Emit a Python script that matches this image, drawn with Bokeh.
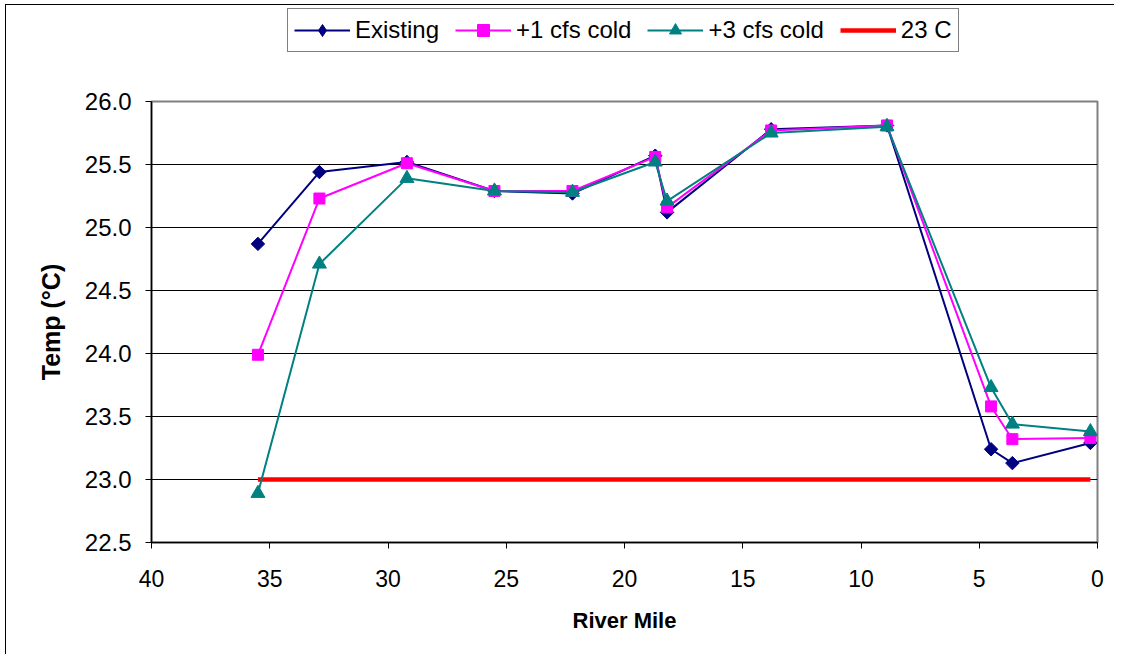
import math
from bokeh.plotting import figure
from bokeh.layouts import column
from bokeh.models import Range1d, FixedTicker, Legend, LegendItem, CustomJSTickFormatter
from bokeh.embed import file_html
from bokeh.resources import INLINE

# ---- data ----
river_mile = [35.5, 32.9, 29.2, 25.5, 22.2, 18.7, 18.2, 13.8, 8.9, 4.5, 3.6, 0.3]
existing = [24.87, 25.44, 25.52, 25.29, 25.27, 25.57, 25.12, 25.78, 25.81, 23.24, 23.13, 23.29]
plus1_cold = [23.99, 25.23, 25.51, 25.29, 25.29, 25.56, 25.16, 25.77, 25.81, 23.58, 23.32, 23.33]
plus3_cold = [22.89, 24.71, 25.39, 25.29, 25.28, 25.52, 25.21, 25.75, 25.80, 23.73, 23.44, 23.38]
threshold_x = [35.5, 0.3]
threshold_y = [23.0, 23.0]

series_labels = ["Existing", "+1 cfs cold", "+3 cfs cold", "23 C"]
x_ticks = [0, 5, 10, 15, 20, 25, 30, 35, 40]
y_ticks = [22.5, 23.0, 23.5, 24.0, 24.5, 25.0, 25.5, 26.0]
grid_ticks = [23.0, 23.5, 24.0, 24.5, 25.0, 25.5]

FONT = "Liberation Sans"
NAVY, MAGENTA, TEAL, RED = "#000080", "#FF00FF", "#008080", "#FF0000"
DIAMOND_ANGLE = math.pi / 4

OFF_X, OFF_Y = 6, 5          # outer chart border (5px/4px margin + 1px line)
W = 1114 - OFF_X
TOP_H = 60


def draw_series(fig, existing_marker, existing_angle, existing_size):
    red = fig.line(threshold_x, threshold_y, line_color=RED, line_width=4.5)
    l1 = fig.line(river_mile, existing, line_color=NAVY, line_width=2)
    m1 = fig.scatter(river_mile, existing, marker=existing_marker, angle=existing_angle,
                     size=existing_size, fill_color=NAVY, line_color=NAVY)
    l2 = fig.line(river_mile, plus1_cold, line_color=MAGENTA, line_width=2)
    m2 = fig.scatter(river_mile, plus1_cold, marker="square", size=11,
                     fill_color=MAGENTA, line_color=MAGENTA)
    l3 = fig.line(river_mile, plus3_cold, line_color=TEAL, line_width=2)
    m3 = fig.scatter(river_mile, plus3_cold, marker="triangle", size=14,
                     fill_color=TEAL, line_color=TEAL)
    return [[l1, m1], [l2, m2], [l3, m3], [red]]


# ---------------- main chart ----------------
p = figure(width=W, height=589, output_backend="svg", toolbar_location=None,
           x_range=Range1d(40, 0), y_range=Range1d(22.5, 26.0),
           min_border_left=151 - OFF_X, min_border_right=17,
           min_border_top=101 - OFF_Y - TOP_H, min_border_bottom=112)

p.background_fill_color = "white"
p.border_fill_color = "white"
p.outline_line_color = "#808080"
p.outline_line_width = 2

p.xaxis.ticker = FixedTicker(ticks=x_ticks)
p.yaxis.ticker = FixedTicker(ticks=y_ticks)
p.yaxis.formatter = CustomJSTickFormatter(code="return tick.toFixed(1);")
for ax in (p.xaxis[0], p.yaxis[0]):
    ax.axis_line_color = "black"
    ax.axis_line_width = 1.5
    ax.major_tick_line_color = "black"
    ax.major_tick_out = 6
    ax.major_tick_in = 0
    ax.minor_tick_line_color = None
    ax.major_label_text_font = FONT
    ax.major_label_text_color = "black"
    ax.axis_label_text_font = FONT
    ax.axis_label_text_font_style = "bold"
    ax.axis_label_text_color = "black"

p.xaxis.major_label_text_font_size = "23px"
p.yaxis.major_label_text_font_size = "24px"
p.xaxis.axis_label_text_font_size = "22px"
p.yaxis.axis_label_text_font_size = "25px"
p.xaxis.axis_label = "River Mile"
p.yaxis.axis_label = "Temp (°C)"
p.xaxis.major_label_standoff = 21
p.xaxis.axis_label_standoff = 18
p.yaxis.major_label_standoff = 14
p.yaxis.axis_label_standoff = 17

p.xgrid.grid_line_color = None
p.ygrid.ticker = FixedTicker(ticks=grid_ticks)
p.ygrid.grid_line_color = "black"
p.ygrid.grid_line_width = 1

draw_series(p, "square", DIAMOND_ANGLE, 9.5)

# ---------------- legend strip (above the chart) ----------------
# The same series are drawn here outside this strip's ranges, so only the legend shows.
lg = figure(width=W, height=TOP_H, output_backend="svg", toolbar_location=None,
            x_range=Range1d(100, 101), y_range=Range1d(100, 101),
            x_axis_type=None, y_axis_type=None,
            min_border_left=0, min_border_right=0, min_border_top=0, min_border_bottom=0)
lg.outline_line_color = None
lg.grid.visible = False
lg.background_fill_color = "white"
lg.border_fill_color = "white"

key_renderers = draw_series(lg, "diamond", 0, 14)

legend = Legend(items=[LegendItem(label=lab, renderers=rs)
                       for lab, rs in zip(series_labels, key_renderers)],
                orientation="horizontal", location=(136, TOP_H - (52 - OFF_Y)))
legend.label_text_font = FONT
legend.label_text_font_size = "24px"
legend.label_text_color = "black"
legend.glyph_width = 56
legend.glyph_height = 30
legend.label_standoff = 5
legend.spacing = 16
legend.padding = 6
legend.margin = 0
legend.border_line_color = "black"
legend.border_line_width = 1
legend.background_fill_color = "white"
legend.background_fill_alpha = 1
lg.add_layout(legend, "center")

layout = column(lg, p, spacing=0,
                styles={"margin-left": "5px", "margin-top": "4px",
                        "border-left": "1px solid black", "border-top": "1px solid black"})
open("out.html", "w").write(file_html(layout, INLINE))
